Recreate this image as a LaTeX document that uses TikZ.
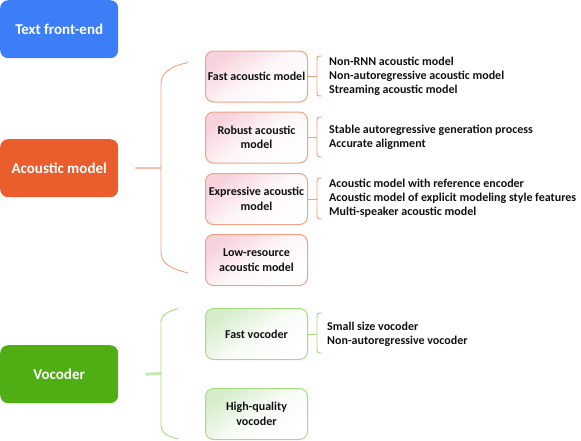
\documentclass[tikz,border=0pt]{standalone}
\usepackage{fontspec}
\setmainfont{Carlito}
\definecolor{cblue}{HTML}{3C7EF8}
\definecolor{corange}{HTML}{EA5D2D}
\definecolor{cgreen}{HTML}{4EAE14}
\definecolor{oline}{HTML}{EFA283}
\definecolor{gline}{HTML}{A6DB80}
\definecolor{ostub}{HTML}{F4C3AC}
\definecolor{gstub}{HTML}{C8E8B0}
\definecolor{pinkfill}{HTML}{F7D2DC}
\definecolor{greenfill}{HTML}{D6EDCC}
\definecolor{txt}{HTML}{111111}
\tikzset{
  mainbox/.style={rounded corners=8pt, minimum width=118pt, minimum height=58pt,
    anchor=north west, inner sep=0pt, text=white, font=\fontsize{15}{17}\selectfont\bfseries},
  subbox/.style={rounded corners=8pt, minimum width=102pt, minimum height=51pt,
    anchor=north west, inner sep=1pt, text=txt, align=center, line width=1pt,
    font=\fontsize{12}{14.5}\selectfont\bfseries},
  accbox/.style={subbox, draw=oline, top color=pinkfill, bottom color=white, middle color=pinkfill!20, shading angle=35},
  vocbox/.style={subbox, draw=gline, top color=greenfill, bottom color=white, middle color=greenfill!20, shading angle=35},
  items/.style={anchor=west, align=left, inner sep=0pt, text=txt,
    font=\fontsize{12}{14}\selectfont\bfseries},
  obr/.style={draw=oline, line width=0.9pt},
  gbr/.style={draw=gline, line width=0.9pt},
}
\newcommand{\smallbrace}[4]{% box, top y, bottom y, style
  \draw[#4] (#1.east) -- ++(9pt,0);
  \draw[#4] (322,#2) .. controls (317,#2) .. (317,#2+6) -- (317,#3-6) .. controls (317,#3) .. (322,#3);
}
\begin{document}
\begin{tikzpicture}[x=1pt,y=-1pt]
\useasboundingbox (0,0) rectangle (581,440);
% main boxes
\node[mainbox, fill=cblue] (tf) at (0,0) {Text front-end};
\node[mainbox, fill=corange] (am) at (0,139) {Acoustic model};
\node[mainbox, fill=cgreen] (vc) at (0,345) {Vocoder};
% sub boxes
\node[accbox] (fa) at (205,50.5) {Fast acoustic model};
\node[accbox] (ra) at (205,111.5) {Robust acoustic\\model};
\node[accbox] (ea) at (205,173) {Expressive acoustic\\model};
\node[accbox] (la) at (205,234) {Low-resource\\acoustic model};
\node[vocbox] (fv) at (205,308) {Fast vocoder};
\node[vocbox] (hq) at (205,388) {High-quality\\vocoder};
% main braces
\coordinate (amj) at (161,168);
\draw[ostub, line width=2pt] (am.east) ++(17,0) -- (amj);
\draw[obr] (188,62.5) .. controls (168,67) and (161,74) .. (161,84) -- (161,252) .. controls (161,262) and (168,268) .. (188,273);
\coordinate (vcj) at (161,373.5);
\draw[gstub, line width=3pt] (vc.east) ++(27,0) -- (vcj);
\draw[gbr] (178,308.5) .. controls (166,312) and (161,316) .. (161,322) -- (161,426) .. controls (161,432) and (166,436) .. (178,439);
% item lists
\node[items] (fai) at (329,76) {Non-RNN acoustic model\\Non-autoregressive acoustic model\\Streaming acoustic model};
\node[items] (rai) at (329,137) {Stable autoregressive generation process\\Accurate alignment};
\node[items] (eai) at (329,198.5) {Acoustic model with reference encoder\\Acoustic model of explicit modeling style features\\Multi-speaker acoustic model};
\node[items] (fvi) at (327,334) {Small size vocoder\\Non-autoregressive vocoder};
% small braces
\smallbrace{fa}{56}{96}{obr}
\smallbrace{ra}{117}{157}{obr}
\smallbrace{ea}{178}{219}{obr}
\smallbrace{fv}{313}{353}{gbr}
\end{tikzpicture}
\end{document}
